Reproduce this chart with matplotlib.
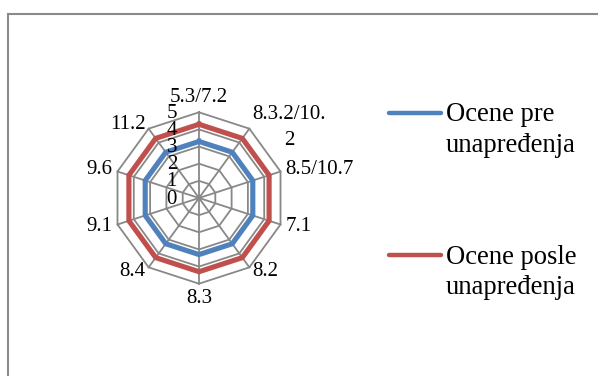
import textwrap
import numpy as np
import matplotlib
matplotlib.use("Agg")
import matplotlib.pyplot as plt
from matplotlib.lines import Line2D
from matplotlib.patches import Rectangle

# ---- data ----
categories = ["5.3/7.2", "8.3.2/10.2", "8.5/10.7", "7.1", "8.2",
              "8.3", "8.4", "9.1", "9.6", "11.2"]
ocene_pre = [3.3, 3.3, 3.3, 3.3, 3.3, 3.3, 3.3, 3.3, 3.3, 3.3]
ocene_posle = [4.3, 4.3, 4.3, 4.3, 4.3, 4.3, 4.3, 4.3, 4.3, 4.3]
series_names = ["Ocene pre unapređenja", "Ocene posle unapređenja"]
radial_ticks = [0, 1, 2, 3, 4, 5]

# ---- style ----
FONT = "Liberation Serif"
plt.rcParams["font.family"] = [FONT, "DejaVu Serif"]
BLUE = "#4F81BD"
RED = "#C0504D"
GRID = "#888888"
W, H = 598, 376

fig = plt.figure(figsize=(W / 100, H / 100), dpi=100)

# chart area frame (extends past right/bottom edges)
fig.add_artist(Rectangle((7.5 / W, -0.2), 1.5, 1 - 14.5 / H + 0.2,
                         transform=fig.transFigure, fill=False,
                         edgecolor="#8a8a8a", linewidth=1.5))

cx, cy, R = 199, 198, 85.7
ax = fig.add_axes([(cx - R) / W, (H - cy - R) / H, 2 * R / W, 2 * R / H],
                  projection="polar")
ax.set_theta_offset(np.pi / 2)
ax.set_theta_direction(-1)
ax.set_ylim(0, radial_ticks[-1])
ax.grid(False)
ax.set_xticks([])
ax.set_yticks([])
ax.spines["polar"].set_visible(False)
ax.patch.set_alpha(0)

N = len(categories)
angles = np.linspace(0, 2 * np.pi, N, endpoint=False)
closed = np.append(angles, angles[0])
rmax = radial_ticks[-1]

# grid rings and spokes
for t in radial_ticks[1:]:
    ax.plot(closed, [t] * (N + 1), color=GRID, lw=1.3, zorder=1, clip_on=False)
for a in angles:
    ax.plot([a, a], [0, rmax], color=GRID, lw=1.3, zorder=1, clip_on=False)

# series
for vals, col in ((ocene_pre, BLUE), (ocene_posle, RED)):
    ax.plot(closed, list(vals) + [vals[0]], color=col, lw=3.7,
            solid_joinstyle="miter", zorder=3, clip_on=False)

# category labels
d = 5
for a, lab in zip(angles, categories):
    s, c = np.sin(a), np.cos(a)
    ha = "left" if s > 0.1 else ("right" if s < -0.1 else "center")
    va = "bottom" if c > 0.9 else ("top" if c < -0.9 else "center")
    lines = textwrap.wrap(lab, 9)
    extra = -3 if len(lines) > 1 else 0
    ax.annotate("\n".join(lines), xy=(a, rmax),
                xytext=(d * s, d * c + extra), textcoords="offset pixels",
                ha=ha, va=va, multialignment="center", fontsize=15,
                linespacing=1.45, annotation_clip=False)

# radial tick labels
for t in radial_ticks:
    ax.annotate(str(t), xy=(0, t), xytext=(-22, -1), textcoords="offset pixels",
                ha="right", va="center", fontsize=15, annotation_clip=False,
                zorder=4)

# legend (manual, Excel-like)
leg_y = [112.7, 255]
for name, col, y in zip(series_names, (BLUE, RED), leg_y):
    fig.add_artist(Line2D([389 / W, 441 / W], [1 - y / H, 1 - y / H],
                          transform=fig.transFigure, color=col, lw=3.2,
                          solid_capstyle="round"))
    fig.text(446 / W, 1 - (y + 39.3) / H, "\n".join(textwrap.wrap(name, 11)),
             ha="left", va="baseline", fontsize=19.2, linespacing=1.3)

fig.savefig("out.png", dpi=100)
